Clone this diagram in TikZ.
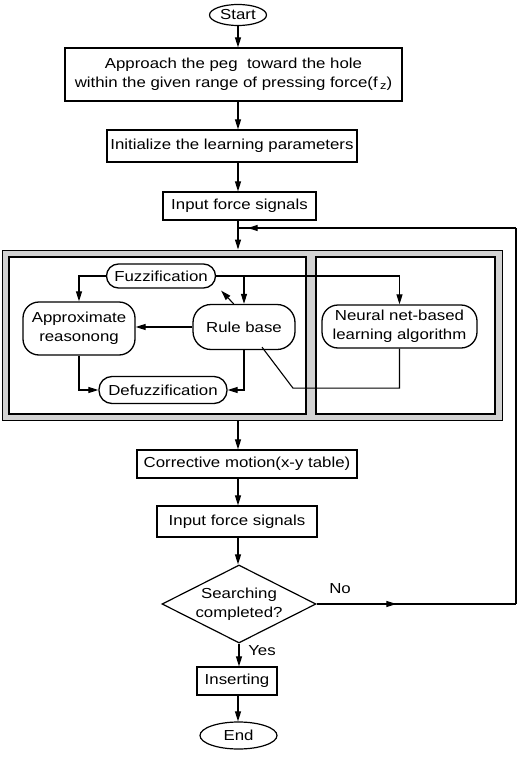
\documentclass[tikz,border=0pt]{standalone}
\usepackage{fontspec}
\setmainfont[FakeStretch=1.16]{Liberation Sans}
\usetikzlibrary{arrows.meta,shapes.geometric,decorations.markings,calc}
\begin{document}
\begin{tikzpicture}[x=1pt,y=-1pt,
  every node/.style={font=\fontsize{14.5}{19}\selectfont, inner sep=0pt, align=center},
  box/.style={draw, line width=1.2pt, rectangle, fill=white},
  rbox/.style={draw, line width=1.3pt, rounded corners=#1, fill=white},
  rbox/.default=12pt,
  term/.style={draw, line width=1.2pt, ellipse},
  dec/.style={draw, line width=1.2pt, diamond, aspect=2},
  tip/.style={-{Triangle[length=10pt,width=6pt]}},
  arr/.style={line width=1.1pt, tip},
  ln/.style={line width=1.1pt},
  midtip/.style={postaction={decorate}, decoration={markings, mark=at position #1 with {\arrow{Triangle[length=10pt,width=6pt]}}}},
]
\useasboundingbox (0,0) rectangle (522,760);

% main column
\node[term, minimum width=57, minimum height=21] (start) at (238,15) {Start};
\node[box, minimum width=337, minimum height=53] (appr) at (233.5,74.5) {Approach the peg\ \ toward the hole\\within the given range of pressing force(f\,\raisebox{-2pt}{\fontsize{11}{11}\selectfont z})};
\node[box, minimum width=250, minimum height=32] (init) at (232,146) {Initialize the learning parameters};
\node[box, minimum width=153, minimum height=28] (in1) at (239.5,206) {Input force signals};
\coordinate (jn) at (238,228);

% frame
\node[draw, line width=1pt, fill=gray!35, minimum width=500, minimum height=170] (frame) at (252,335) {};
\node[draw, line width=1.8pt, fill=white, minimum width=297, minimum height=157] (lbox) at (157.5,335.5) {};
\node[draw, line width=1.8pt, fill=white, minimum width=179, minimum height=157] (rbx) at (405.5,335.5) {};

\node[rbox=12pt, minimum width=109, minimum height=24] (fuzz) at (161,276) {Fuzzification};
\node[rbox=16pt, minimum width=112, minimum height=53] (approx) at (79,328.5) {Approximate\\reasonong};
\node[rbox=18pt, minimum width=102, minimum height=45] (rule) at (244,327) {Rule base};
\node[rbox=13pt, minimum width=128, minimum height=27] (defuzz) at (163,390) {Defuzzification};
\node[rbox=16pt, minimum width=155, minimum height=43] (neural) at (399.5,326.5) {Neural net-based\\learning algorithm};

\node[box, minimum width=220, minimum height=28] (corr) at (247,464) {Corrective motion(x-y table)};
\node[box, minimum width=160, minimum height=31] (in2) at (237,521.5) {Input force signals};
\node[dec, minimum width=154, minimum height=78] (dec) at (239,604) {Searching\\completed?};
\node (no) at (340,589) {No};
\node (yes) at (262,651) {Yes};
\node[box, minimum width=80, minimum height=28] (ins) at (237,681) {Inserting};
\node[term, minimum width=77, minimum height=27] (end) at (238.5,735.5) {End};

% main arrows
\draw[arr] (start.south) -- (start.south |- appr.north);
\draw[arr] (appr.south -| jn) -- (init.north -| jn);
\draw[arr] (init.south -| jn) -- (in1.north -| jn);
\draw[arr] (in1.south -| jn) -- (jn |- frame.north);
\draw[arr] (jn |- frame.south) -- (jn |- corr.north);
\draw[arr] (corr.south -| jn) -- (jn |- in2.north);
\draw[arr] (in2.south -| jn) -- (jn |- dec.north);
\draw[arr] (dec.south) -- (dec.south |- ins.north);
\draw[arr] (ins.south -| jn) -- (jn |- end.north);

% loop back
\coordinate (rc) at (516,604);
\coordinate (tc) at (516,228);
\draw[ln, midtip=0.4] (dec.east) -- (rc);
\draw[ln] (rc) -- (tc);
\draw[ln, midtip=0.965] (tc) -- (jn);

% inner connections
\draw[arr] (fuzz.west) -| (approx.north);
\draw[arr] (fuzz.east) -| (neural.north);
\draw[arr] (fuzz.east -| rule.north) -- (rule.north);
\draw[arr] ($(rule.north west)!0.4!(rule.north east)$) -- ($(fuzz.south east)+(5,2)$);
\draw[arr] (rule.west) -- (rule.west -| approx.east);
\draw[arr] (approx.south) |- (defuzz.west);
\draw[arr] (rule.south) |- (defuzz.east);
\draw[ln] ($(rule.south)+(18,-3)$) -- ++(31,41) -| (neural.south);
\end{tikzpicture}
\end{document}
